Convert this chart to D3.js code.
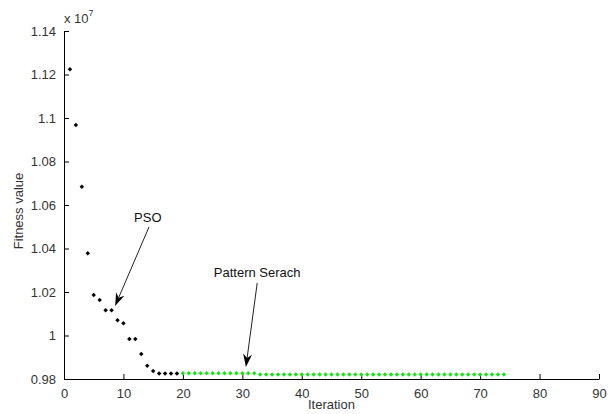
<!DOCTYPE html>
<html>
<head>
<meta charset="utf-8">
<script src="https://cdn.jsdelivr.net/npm/d3@7"></script>
<style>
  body { margin: 0; background: #fff; }
  svg { display: block; font-family: "Liberation Sans", Arial, sans-serif; }
</style>
</head>
<body>
<svg id="chart"></svg>
<script>
// PSO phase (black points)
const psoIter = [1, 2, 3, 4, 5, 6, 7, 8, 9, 10, 11, 12, 13, 14, 15, 16, 17, 18, 19];
const psoFitness = [1.1224, 1.0968, 1.0684, 1.0378, 1.0186, 1.0163, 1.0116, 1.0116, 1.0070, 1.0056,
    0.9984, 0.9984, 0.9915, 0.9861, 0.9837, 0.98255, 0.98255, 0.98255, 0.98255];

// Pattern search phase (green points), iterations 20..74
const psIter = [20, 21, 22, 23, 24, 25, 26, 27, 28, 29, 30, 31, 32, 33, 34, 35, 36, 37, 38, 39, 40,
    41, 42, 43, 44, 45, 46, 47, 48, 49, 50, 51, 52, 53, 54, 55, 56, 57, 58, 59, 60,
    61, 62, 63, 64, 65, 66, 67, 68, 69, 70, 71, 72, 73, 74];
const psFitness = [0.9826, 0.9826, 0.9826, 0.9826, 0.9826, 0.9826, 0.9826, 0.9826, 0.9826, 0.9826,
    0.9826, 0.9826, 0.9826, 0.9821, 0.9821, 0.9821, 0.9821, 0.9821, 0.9821, 0.9821, 0.9821,
    0.9821, 0.9821, 0.9821, 0.9821, 0.9821, 0.9821, 0.9821, 0.9821, 0.9821, 0.9821, 0.9821,
    0.9821, 0.9821, 0.9821, 0.9821, 0.9821, 0.9821, 0.9821, 0.9821, 0.9821, 0.9821, 0.9821,
    0.9821, 0.9821, 0.9821, 0.9821, 0.9821, 0.9821, 0.9821, 0.9821, 0.9821, 0.9821, 0.9821, 0.9821];

// axis ticks
const xTicks = [0, 10, 20, 30, 40, 50, 60, 70, 80, 90];
const yTicks = [0.98, 1.0, 1.02, 1.04, 1.06, 1.08, 1.1, 1.12, 1.14];

// annotations: label, text anchor point, arrow tail, arrow tip (data units)
const notes = [
    { label: "PSO", text: [14.1, 1.0522], tail: [14.3, 1.0499], tip: [8.6, 1.0136] },
    { label: "Pattern Serach", text: [32.5, 1.0269], tail: [32.5, 1.0241], tip: [30.6, 0.9855] }
];

const W = 611, H = 414;
const margin = { top: 31, right: 12, bottom: 35, left: 64 };
const fontSize = "13px";

const svg = d3.select("#chart").attr("width", W).attr("height", H);

const x = d3.scaleLinear().domain([0, 90]).range([margin.left, W - margin.right]);
const y = d3.scaleLinear().domain([0.98, 1.14]).range([H - margin.bottom, margin.top]);

// axes, ticks drawn inward like matlab
const xAxis = d3.axisBottom(x).tickValues(xTicks).tickSizeInner(-5).tickSizeOuter(0)
    .tickPadding(8).tickFormat(d3.format("d"));
const yAxis = d3.axisLeft(y).tickValues(yTicks).tickSizeInner(-5).tickSizeOuter(0)
    .tickPadding(8).tickFormat(d => d3.format("")(+d.toFixed(2)));

const gx = svg.append("g").attr("transform", `translate(0,${H - margin.bottom})`).call(xAxis);
const gy = svg.append("g").attr("transform", `translate(${margin.left},0)`).call(yAxis);

[gx, gy].forEach(g => {
    g.select(".domain").attr("stroke", "#000");
    g.selectAll(".tick line").attr("stroke", "#000");
    g.selectAll(".tick text").attr("fill", "#333").style("font-size", fontSize)
        .style("font-family", "'Liberation Sans', Arial, sans-serif");
});
gx.selectAll(".tick text").attr("dy", "0.85em");

// axis labels
svg.append("text").attr("x", (x(0) + x(90)) / 2).attr("y", 409)
    .attr("text-anchor", "middle").attr("fill", "#333").style("font-size", fontSize)
    .text("Iteration");

svg.append("text").attr("transform", `translate(23,${(y(0.98) + y(1.14)) / 2 + 6}) rotate(-90)`)
    .attr("text-anchor", "middle").attr("fill", "#333").style("font-size", fontSize)
    .text("Fitness value");

// exponent label
const expo = svg.append("text").attr("x", 64).attr("y", 23).attr("fill", "#333")
    .style("font-size", fontSize);
expo.append("tspan").text("x 10");
expo.append("tspan").attr("dy", -7).style("font-size", "9px").text("7");

// points: small square turned 45 degrees
const marker = d3.symbol().type(d3.symbolSquare).size(10);

svg.append("g").selectAll("path")
    .data(psoIter.map((d, i) => [d, psoFitness[i]]))
    .enter().append("path")
    .attr("d", marker)
    .attr("transform", d => `translate(${x(d[0])},${y(d[1])}) rotate(45)`)
    .attr("fill", "#000");

svg.append("g").selectAll("path")
    .data(psIter.map((d, i) => [d, psFitness[i]]))
    .enter().append("path")
    .attr("d", marker)
    .attr("transform", d => `translate(${x(d[0])},${y(d[1])}) rotate(45)`)
    .attr("fill", "#14e614");

// annotations with arrows
notes.forEach(n => {
    const x1 = x(n.tail[0]), y1 = y(n.tail[1]);
    const x2 = x(n.tip[0]), y2 = y(n.tip[1]);
    const ang = Math.atan2(y2 - y1, x2 - x1);
    const len = 13, half = 4.5, back = 9;
    const bx = x2 - len * Math.cos(ang), by = y2 - len * Math.sin(ang);
    const nx = -Math.sin(ang), ny = Math.cos(ang);
    const cx = x2 - back * Math.cos(ang), cy = y2 - back * Math.sin(ang);

    svg.append("line")
        .attr("x1", x1).attr("y1", y1).attr("x2", cx).attr("y2", cy)
        .attr("stroke", "#222").attr("stroke-width", 1);

    svg.append("path")
        .attr("d", `M${x2},${y2} L${bx + nx * half},${by + ny * half} L${cx},${cy} L${bx - nx * half},${by - ny * half} Z`)
        .attr("fill", "#000");

    svg.append("text")
        .attr("x", x(n.text[0])).attr("y", y(n.text[1]))
        .attr("text-anchor", "middle").attr("fill", "#111").style("font-size", fontSize)
        .text(n.label);
});
</script>
</body>
</html>
